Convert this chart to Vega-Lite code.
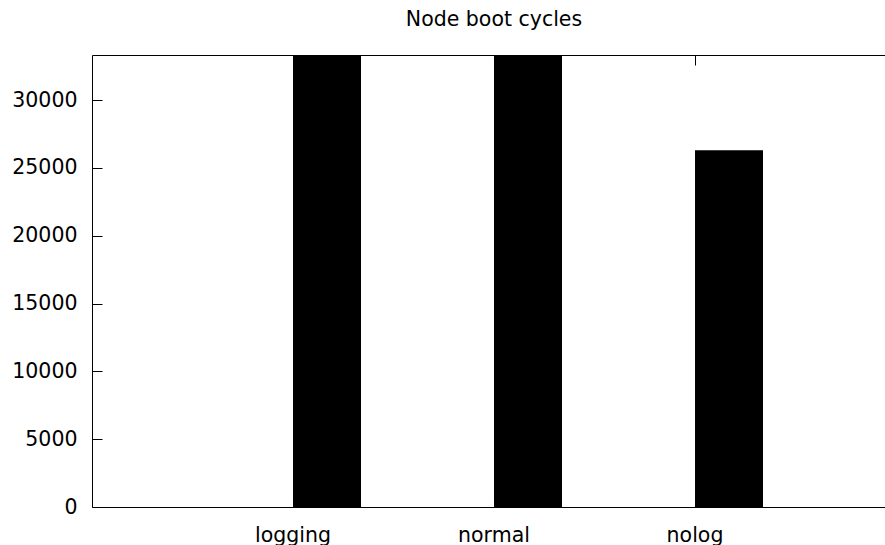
{
  "$schema": "https://vega.github.io/schema/vega-lite/v6.json",
  "width": 793,
  "height": 452,
  "autosize": {"type": "none"},
  "padding": {"left": 92, "top": 55, "right": 0, "bottom": 38},
  "title": {
    "text": "Node boot cycles",
    "fontSize": 20.5,
    "font": "DejaVu Sans",
    "fontWeight": "normal",
    "color": "#000000",
    "anchor": "middle",
    "frame": "group",
    "baseline": "alphabetic",
    "offset": 30,
    "dx": 5.5,
    "dy": 22
  },
  "data": {
    "values": [
      {"name": "logging", "value": 36000},
      {"name": "normal", "value": 36000},
      {"name": "nolog", "value": 26300}
    ]
  },
  "config": {
    "view": {"stroke": null},
    "font": "DejaVu Sans",
    "axis": {
      "grid": false,
      "domainColor": "#000000",
      "domainWidth": 1,
      "tickColor": "#000000",
      "tickWidth": 1,
      "labelColor": "#000000",
      "labelFont": "DejaVu Sans",
      "labelFontSize": 20.5,
      "title": null
    }
  },
  "layer": [
    {
      "mark": {"type": "bar", "width": 68, "xOffset": 34, "color": "#000000", "clip": true},
      "encoding": {
        "x": {
          "field": "name",
          "type": "nominal",
          "sort": null,
          "scale": {"paddingInner": 0, "paddingOuter": 0.4726, "align": 0.529},
          "axis": {"orient": "bottom", "tickSize": -10, "labelPadding": 28, "labelAngle": 0}
        },
        "y": {
          "field": "value",
          "type": "quantitative",
          "scale": {"domain": [0, 33333], "nice": false},
          "axis": {"values": [0, 5000, 10000, 15000, 20000, 25000, 30000], "format": "d", "tickSize": -10, "labelPadding": 25}
        }
      }
    },
    {
      "mark": {"type": "bar", "width": 68, "xOffset": 34, "opacity": 0, "clip": true},
      "encoding": {
        "x": {
          "field": "name",
          "type": "nominal",
          "sort": null,
          "axis": {"orient": "top", "tickSize": -10, "labels": false}
        },
        "y": {"field": "value", "type": "quantitative"}
      }
    }
  ],
  "resolve": {"axis": {"x": "independent"}}
}
